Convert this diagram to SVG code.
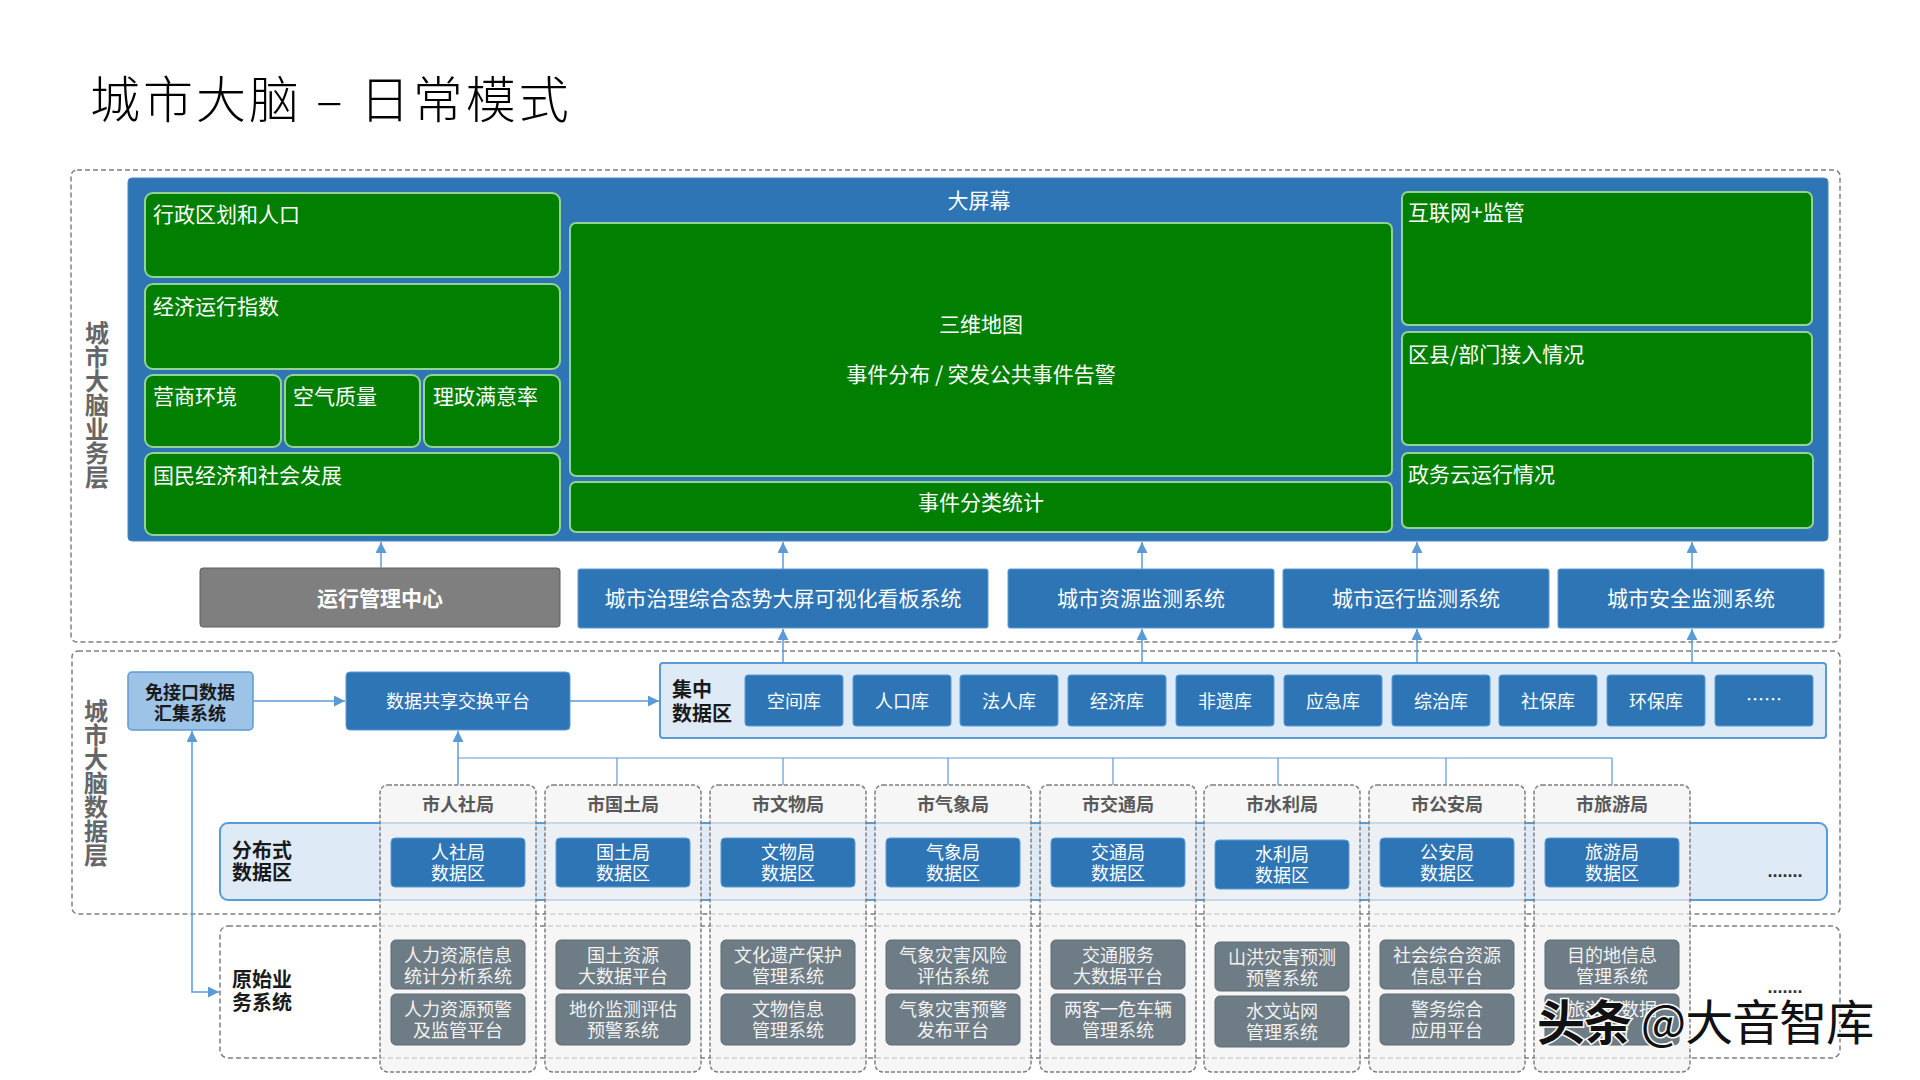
<svg xmlns="http://www.w3.org/2000/svg" width="1920" height="1080" viewBox="0 0 1920 1080">
<style>
text{font-family:"Noto Sans CJK SC","Noto Sans",sans-serif}
.dash{fill:none;stroke:#7f7f7f;stroke-width:1.5;stroke-dasharray:5 3}
.green{fill:#007f00;stroke:#93d393;stroke-width:2}
.gt{fill:#fff;font-size:21px}
.blue{fill:#2e75b6;stroke:#5b9bd5;stroke-width:1}
.wt{fill:#fff;font-size:18px;text-anchor:middle}
.wt21{fill:#fff;font-size:21px;text-anchor:middle}
.col{fill:#f2f2f2;fill-opacity:0.7;stroke:#7f7f7f;stroke-width:1.5;stroke-dasharray:4 2}
.ct{fill:#595959;font-size:18px;font-weight:bold;text-anchor:middle}
.sys{fill:#6e7c85;stroke:#5f6b73;stroke-width:1}
.st{fill:#f2f2f2;font-size:18px;text-anchor:middle}
.lbl{fill:#1a1a1a;font-size:20px;font-weight:bold}
.side{fill:#666;font-size:24px;font-weight:bold;text-anchor:middle}
.band{fill:#deebf7;stroke:#5b9bd5;stroke-width:2}
.conn{fill:none;stroke:#5b9bd5;stroke-width:1.5}
.bus{fill:none;stroke:#5b9bd5;stroke-width:1.2}
</style>
<defs>
<marker id="ah" viewBox="0 0 10 10" refX="10" refY="5" markerWidth="11" markerHeight="11" markerUnits="userSpaceOnUse" orient="auto-start-reverse">
<path d="M0,0 L10,5 L0,10 z" fill="#5b9bd5"/>
</marker>
</defs>
<rect width="1920" height="1080" fill="#fff"/>
<text x="90" y="118" font-size="50" fill="#000" style="font-family:'Noto Sans CJK SC',serif;font-weight:300;letter-spacing:3px">城市大脑 – 日常模式</text>

<!-- layer frames -->
<g id="layer-business">
<rect class="dash" x="71" y="170" width="1769" height="472" rx="6"/>
<text class="side"><tspan x="97" y="342">城</tspan><tspan x="97" y="366">市</tspan><tspan x="97" y="390">大</tspan><tspan x="97" y="414">脑</tspan><tspan x="97" y="438">业</tspan><tspan x="97" y="462">务</tspan><tspan x="97" y="486">层</tspan></text>
</g>
<g id="layer-data">
<rect class="dash" x="72" y="651" width="1768" height="263" rx="6"/>
<text class="side"><tspan x="96" y="720">城</tspan><tspan x="96" y="744">市</tspan><tspan x="96" y="768">大</tspan><tspan x="96" y="792">脑</tspan><tspan x="96" y="816">数</tspan><tspan x="96" y="840">据</tspan><tspan x="96" y="864">层</tspan></text>
</g>

<!-- big screen panel -->
<g id="screen">
<rect x="128" y="178" width="1700" height="363" rx="4" fill="#2e75b6" stroke="#4a86c0" stroke-width="1"/>
<text class="wt21" x="979" y="208">大屏幕</text>
</g>
<g id="n-xzqh"><rect class="green" x="145" y="193" width="415" height="84" rx="8"/><text class="gt" x="153" y="222">行政区划和人口</text></g>
<g id="n-jjyx"><rect class="green" x="145" y="284" width="415" height="85" rx="8"/><text class="gt" x="153" y="314">经济运行指数</text></g>
<g id="n-yshj"><rect class="green" x="145" y="375" width="136" height="72" rx="8"/><text class="gt" x="153" y="404">营商环境</text></g>
<g id="n-kqzl"><rect class="green" x="285" y="375" width="135" height="72" rx="8"/><text class="gt" x="293" y="404">空气质量</text></g>
<g id="n-lzmy"><rect class="green" x="424" y="375" width="136" height="72" rx="8"/><text class="gt" x="433" y="404">理政满意率</text></g>
<g id="n-gmjj"><rect class="green" x="145" y="453" width="415" height="82" rx="8"/><text class="gt" x="153" y="483">国民经济和社会发展</text></g>
<g id="n-swdt"><rect class="green" x="570" y="223" width="822" height="253" rx="6"/><text class="gt" x="981" y="332" text-anchor="middle">三维地图</text><text class="gt" x="981" y="382" text-anchor="middle">事件分布 / 突发公共事件告警</text></g>
<g id="n-sjfl"><rect class="green" x="570" y="482" width="822" height="50" rx="6"/><text class="gt" x="981" y="510" text-anchor="middle">事件分类统计</text></g>
<g id="n-hlw"><rect class="green" x="1402" y="192" width="410" height="133" rx="6"/><text class="gt" x="1408" y="220">互联网+监管</text></g>
<g id="n-qx"><rect class="green" x="1402" y="332" width="410" height="113" rx="6"/><text class="gt" x="1408" y="362">区县/部门接入情况</text></g>
<g id="n-zwy"><rect class="green" x="1402" y="453" width="411" height="75" rx="6"/><text class="gt" x="1408" y="482">政务云运行情况</text></g>

<!-- systems row -->
<g id="n-yxgl"><rect x="200" y="568" width="360" height="59" rx="3" fill="#7f7f7f" stroke="#5f5f5f" stroke-width="1"/><text class="wt21" x="380" y="606" font-weight="bold">运行管理中心</text></g>
<g id="n-kb"><rect class="blue" x="578" y="569" width="410" height="59" rx="2"/><text class="wt21" x="783" y="606">城市治理综合态势大屏可视化看板系统</text></g>
<g id="n-zyjc"><rect class="blue" x="1008" y="569" width="266" height="59" rx="2"/><text class="wt21" x="1141" y="606">城市资源监测系统</text></g>
<g id="n-yxjc"><rect class="blue" x="1283" y="569" width="266" height="59" rx="2"/><text class="wt21" x="1416" y="606">城市运行监测系统</text></g>
<g id="n-aqjc"><rect class="blue" x="1558" y="569" width="266" height="59" rx="2"/><text class="wt21" x="1691" y="606">城市安全监测系统</text></g>

<!-- data layer -->
<g id="n-mjk"><rect x="128" y="672" width="125" height="58" rx="4" fill="#9dc3e6" stroke="#5b9bd5" stroke-width="1.5"/><text x="190" y="699" font-size="18" font-weight="bold" fill="#1a1a1a" text-anchor="middle">免接口数据</text><text x="190" y="720" font-size="18" font-weight="bold" fill="#1a1a1a" text-anchor="middle">汇集系统</text></g>
<g id="n-sjgx"><rect class="blue" x="346" y="672" width="224" height="58" rx="4"/><text class="wt" x="458" y="708">数据共享交换平台</text></g>
<g id="n-jzsjq">
<rect class="band" x="660" y="663" width="1166" height="75" rx="3"/>
<text class="lbl" x="672" y="697" font-size="19">集中</text><text class="lbl" x="672" y="721" font-size="19">数据区</text>
</g>
<g id="n-db">
<rect class="blue" x="745" y="675" width="98" height="51" rx="3"/><text class="wt" x="794" y="708">空间库</text>
<rect class="blue" x="853" y="675" width="98" height="51" rx="3"/><text class="wt" x="902" y="708">人口库</text>
<rect class="blue" x="960" y="675" width="98" height="51" rx="3"/><text class="wt" x="1009" y="708">法人库</text>
<rect class="blue" x="1068" y="675" width="98" height="51" rx="3"/><text class="wt" x="1117" y="708">经济库</text>
<rect class="blue" x="1176" y="675" width="98" height="51" rx="3"/><text class="wt" x="1225" y="708">非遗库</text>
<rect class="blue" x="1284" y="675" width="98" height="51" rx="3"/><text class="wt" x="1333" y="708">应急库</text>
<rect class="blue" x="1392" y="675" width="98" height="51" rx="3"/><text class="wt" x="1441" y="708">综治库</text>
<rect class="blue" x="1499" y="675" width="98" height="51" rx="3"/><text class="wt" x="1548" y="708">社保库</text>
<rect class="blue" x="1607" y="675" width="98" height="51" rx="3"/><text class="wt" x="1656" y="708">环保库</text>
<rect class="blue" x="1715" y="675" width="98" height="51" rx="3"/><text class="wt" x="1764" y="706">……</text>
</g>

<g id="n-fbs">
<rect class="band" x="220" y="823" width="1607" height="77" rx="8"/>
<text class="lbl" x="232" y="858">分布式</text><text class="lbl" x="232" y="880">数据区</text>
<text x="1785" y="877" font-size="18" font-weight="bold" fill="#333" text-anchor="middle" style="font-family:'Liberation Sans',sans-serif">.......</text>
</g>
<g id="n-ysyw">
<rect class="dash" x="220" y="926" width="1620" height="132" rx="8"/>
<text class="lbl" x="232" y="987">原始业</text><text class="lbl" x="232" y="1010">务系统</text>
<text x="1785" y="993" font-size="18" font-weight="bold" fill="#333" text-anchor="middle" style="font-family:'Liberation Sans',sans-serif">.......</text>
</g>

<!-- bureau columns -->
<g id="b-rs"><rect class="col" x="380" y="785" width="156" height="287" rx="8"/><text class="ct" x="458" y="811">市人社局</text>
<rect class="blue" x="391" y="838" width="134" height="49" rx="4"/><text class="wt" x="458" y="859">人社局</text><text class="wt" x="458" y="880">数据区</text>
<rect class="sys" x="391" y="940" width="134" height="49" rx="5"/><text class="st" x="458" y="962">人力资源信息</text><text class="st" x="458" y="983">统计分析系统</text>
<rect class="sys" x="391" y="994" width="134" height="51" rx="5"/><text class="st" x="458" y="1016">人力资源预警</text><text class="st" x="458" y="1037">及监管平台</text></g>
<g id="b-gt"><rect class="col" x="545" y="785" width="156" height="287" rx="8"/><text class="ct" x="623" y="811">市国土局</text>
<rect class="blue" x="556" y="838" width="134" height="49" rx="4"/><text class="wt" x="623" y="859">国土局</text><text class="wt" x="623" y="880">数据区</text>
<rect class="sys" x="556" y="940" width="134" height="49" rx="5"/><text class="st" x="623" y="962">国土资源</text><text class="st" x="623" y="983">大数据平台</text>
<rect class="sys" x="556" y="994" width="134" height="51" rx="5"/><text class="st" x="623" y="1016">地价监测评估</text><text class="st" x="623" y="1037">预警系统</text></g>
<g id="b-ww"><rect class="col" x="710" y="785" width="156" height="287" rx="8"/><text class="ct" x="788" y="811">市文物局</text>
<rect class="blue" x="721" y="838" width="134" height="49" rx="4"/><text class="wt" x="788" y="859">文物局</text><text class="wt" x="788" y="880">数据区</text>
<rect class="sys" x="721" y="940" width="134" height="49" rx="5"/><text class="st" x="788" y="962">文化遗产保护</text><text class="st" x="788" y="983">管理系统</text>
<rect class="sys" x="721" y="994" width="134" height="51" rx="5"/><text class="st" x="788" y="1016">文物信息</text><text class="st" x="788" y="1037">管理系统</text></g>
<g id="b-qx"><rect class="col" x="875" y="785" width="156" height="287" rx="8"/><text class="ct" x="953" y="811">市气象局</text>
<rect class="blue" x="886" y="838" width="134" height="49" rx="4"/><text class="wt" x="953" y="859">气象局</text><text class="wt" x="953" y="880">数据区</text>
<rect class="sys" x="886" y="940" width="134" height="49" rx="5"/><text class="st" x="953" y="962">气象灾害风险</text><text class="st" x="953" y="983">评估系统</text>
<rect class="sys" x="886" y="994" width="134" height="51" rx="5"/><text class="st" x="953" y="1016">气象灾害预警</text><text class="st" x="953" y="1037">发布平台</text></g>
<g id="b-jt"><rect class="col" x="1040" y="785" width="156" height="287" rx="8"/><text class="ct" x="1118" y="811">市交通局</text>
<rect class="blue" x="1051" y="838" width="134" height="49" rx="4"/><text class="wt" x="1118" y="859">交通局</text><text class="wt" x="1118" y="880">数据区</text>
<rect class="sys" x="1051" y="940" width="134" height="49" rx="5"/><text class="st" x="1118" y="962">交通服务</text><text class="st" x="1118" y="983">大数据平台</text>
<rect class="sys" x="1051" y="994" width="134" height="51" rx="5"/><text class="st" x="1118" y="1016">两客一危车辆</text><text class="st" x="1118" y="1037">管理系统</text></g>
<g id="b-sl"><rect class="col" x="1204" y="785" width="156" height="287" rx="8"/><text class="ct" x="1282" y="811">市水利局</text>
<rect class="blue" x="1215" y="840" width="134" height="49" rx="4"/><text class="wt" x="1282" y="861">水利局</text><text class="wt" x="1282" y="882">数据区</text>
<rect class="sys" x="1215" y="942" width="134" height="49" rx="5"/><text class="st" x="1282" y="964">山洪灾害预测</text><text class="st" x="1282" y="985">预警系统</text>
<rect class="sys" x="1215" y="996" width="134" height="51" rx="5"/><text class="st" x="1282" y="1018">水文站网</text><text class="st" x="1282" y="1039">管理系统</text></g>
<g id="b-ga"><rect class="col" x="1369" y="785" width="156" height="287" rx="8"/><text class="ct" x="1447" y="811">市公安局</text>
<rect class="blue" x="1380" y="838" width="134" height="49" rx="4"/><text class="wt" x="1447" y="859">公安局</text><text class="wt" x="1447" y="880">数据区</text>
<rect class="sys" x="1380" y="940" width="134" height="49" rx="5"/><text class="st" x="1447" y="962">社会综合资源</text><text class="st" x="1447" y="983">信息平台</text>
<rect class="sys" x="1380" y="994" width="134" height="51" rx="5"/><text class="st" x="1447" y="1016">警务综合</text><text class="st" x="1447" y="1037">应用平台</text></g>
<g id="b-ly"><rect class="col" x="1534" y="785" width="156" height="287" rx="8"/><text class="ct" x="1612" y="811">市旅游局</text>
<rect class="blue" x="1545" y="838" width="134" height="49" rx="4"/><text class="wt" x="1612" y="859">旅游局</text><text class="wt" x="1612" y="880">数据区</text>
<rect class="sys" x="1545" y="940" width="134" height="49" rx="5"/><text class="st" x="1612" y="962">目的地信息</text><text class="st" x="1612" y="983">管理系统</text>
<rect class="sys" x="1545" y="994" width="134" height="51" rx="5"/><text class="st" x="1612" y="1016">旅游大数据</text><text class="st" x="1612" y="1037">平台</text></g>

<!-- connectors -->
<g id="connectors">
<path class="conn" d="M381,568 L381,542" marker-end="url(#ah)"/>
<path class="conn" d="M783,569 L783,542" marker-end="url(#ah)"/>
<path class="conn" d="M1142,569 L1142,542" marker-end="url(#ah)"/>
<path class="conn" d="M1417,569 L1417,542" marker-end="url(#ah)"/>
<path class="conn" d="M1692,569 L1692,542" marker-end="url(#ah)"/>
<path class="conn" d="M783,663 L783,629" marker-end="url(#ah)"/>
<path class="conn" d="M1142,663 L1142,629" marker-end="url(#ah)"/>
<path class="conn" d="M1417,663 L1417,629" marker-end="url(#ah)"/>
<path class="conn" d="M1692,663 L1692,629" marker-end="url(#ah)"/>
<path class="conn" d="M253,701 L345,701" marker-end="url(#ah)"/>
<path class="conn" d="M570,701 L659,701" marker-end="url(#ah)"/>
<path class="conn" d="M192,731 L192,992 L219,992" marker-start="url(#ah)" marker-end="url(#ah)"/>
<path class="conn" d="M458,785 L458,731" marker-end="url(#ah)"/>
<path class="bus" d="M458,758 L1612,758 M617,758 L617,785 M783,758 L783,785 M948,758 L948,785 M1113,758 L1113,785 M1278,758 L1278,785 M1446,758 L1446,785 M1612,758 L1612,785"/>
</g>

<text x="1537" y="1040" font-size="48" fill="#111" stroke="#fff" stroke-width="3" paint-order="stroke" style="letter-spacing:-1px"><tspan font-weight="bold">头条</tspan> @大音智库</text>
</svg>
